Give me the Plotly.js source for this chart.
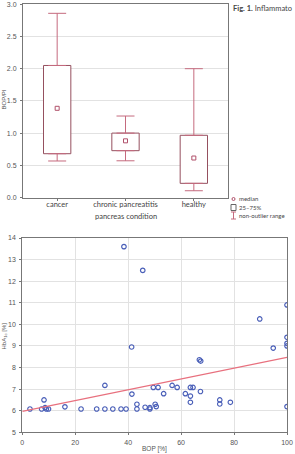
<!DOCTYPE html>
<html>
<head>
<meta charset="utf-8">
<script src="https://cdn.plot.ly/plotly-3.0.1.min.js"></script>
<style>
  html, body { margin: 0; padding: 0; background: #fff; }
  #chart { width: 295px; height: 454px; }
</style>
</head>
<body>
<div id="chart"></div>
<script>
// ---- Box plot: BOP/PI by pancreas condition ----
const groups      = ['cancer', 'chronic pancreatitis', 'healthy'];
const boxLower    = [0.567, 0.57, 0.105];
const boxQ1       = [0.68, 0.727, 0.22];
const boxMedian   = [1.385, 0.88, 0.613];
const boxQ3       = [2.05, 1.0, 0.966];
const boxUpper    = [2.86, 1.265, 2.0];
const boxTicks    = [0, 0.5, 1.0, 1.5, 2.0, 2.5, 3.0];

// ---- Scatter: HbA1c vs BOP ----
const bop = [2.9, 7.3, 8.2, 8.6, 9.1, 9.9, 16.1, 22.2, 28.1, 31.2, 31.2, 34.2,
             37.3, 39.2, 38.4, 41.3, 41.4, 43.3, 43.3, 45.5, 46.4, 48.2, 48.2,
             49.5, 50.2, 50.6, 51.3, 53.4, 56.6, 58.5, 61.6, 63.5, 64.5, 63.5,
             63.5, 67.3, 66.9, 67.4, 74.6, 74.6, 78.6, 89.7, 94.8, 100, 100,
             100, 100, 100];
const hba1c = [6.08, 6.08, 6.5, 6.14, 6.08, 6.08, 6.18, 6.08, 6.08, 6.08, 7.17, 6.08,
               6.08, 6.08, 13.6, 8.95, 6.77, 6.3, 6.08, 12.5, 6.16, 6.14, 6.08,
               7.08, 6.3, 6.19, 7.08, 6.79, 7.17, 7.08, 6.79, 7.08, 7.08, 6.68,
               6.39, 6.89, 8.36, 8.3, 6.5, 6.31, 6.39, 10.25, 8.9, 10.9, 9.4,
               9.12, 9.0, 6.19];
// fitted trend line end points
const fitX = [0, 100];
const fitY = [5.97, 8.47];

const W = 295, H = 454;
const px = x => x / W;
const py = y => 1 - y / H;

const boxLine = '#95505f';
const whiskerLine = '#c56a7e';
const pointBlue = '#4a5fb8';
const tickFont = {family: 'Liberation Sans, Arial, sans-serif', size: 7, color: '#555'};
const textFont = {family: 'Lato, sans-serif', size: 7.5, color: '#444'};

const xi = groups.map((_, i) => i);

const traces = [
  // box bodies (q1..q3)
  {
    type: 'bar', x: xi, base: boxQ1, y: boxQ3.map((v, i) => v - boxQ1[i]),
    width: 0.4, marker: {color: '#ffffff', line: {color: boxLine, width: 1}},
    xaxis: 'x', yaxis: 'y', hoverinfo: 'skip', showlegend: false
  },
  // upper whiskers
  {
    type: 'scatter', mode: 'markers', x: xi, y: boxQ3,
    marker: {size: 1, color: 'rgba(0,0,0,0)'},
    error_y: {type: 'data', symmetric: false,
              array: boxUpper.map((v, i) => v - boxQ3[i]),
              arrayminus: boxQ3.map(() => 0),
              color: whiskerLine, thickness: 1, width: 9},
    xaxis: 'x', yaxis: 'y', hoverinfo: 'skip', showlegend: false
  },
  // lower whiskers
  {
    type: 'scatter', mode: 'markers', x: xi, y: boxQ1,
    marker: {size: 1, color: 'rgba(0,0,0,0)'},
    error_y: {type: 'data', symmetric: false,
              array: boxQ1.map(() => 0),
              arrayminus: boxQ1.map((v, i) => v - boxLower[i]),
              color: whiskerLine, thickness: 1, width: 9},
    xaxis: 'x', yaxis: 'y', hoverinfo: 'skip', showlegend: false
  },
  // medians
  {
    type: 'scatter', mode: 'markers', x: xi, y: boxMedian,
    marker: {symbol: 'square-open', size: 4, color: '#b0506a', line: {width: 1}},
    xaxis: 'x', yaxis: 'y', showlegend: false
  },
  // scatter points
  {
    type: 'scatter', mode: 'markers', x: bop, y: hba1c,
    marker: {symbol: 'circle-open', size: 4.5, color: pointBlue, line: {width: 1.2}},
    xaxis: 'x2', yaxis: 'y2', showlegend: false
  },
  // trend line
  {
    type: 'scatter', mode: 'lines', x: fitX, y: fitY,
    line: {color: '#e8707e', width: 1.1},
    xaxis: 'x2', yaxis: 'y2', showlegend: false, hoverinfo: 'skip'
  }
];

const axisCommon = {
  showline: true, linecolor: '#777', linewidth: 1, mirror: true,
  ticks: 'outside', ticklen: 2, tickcolor: '#777',
  zeroline: false, tickfont: tickFont, gridcolor: '#e2e2e2', gridwidth: 1
};

function note(text, x, y, opts) {
  return Object.assign({
    text: text, xref: 'paper', yref: 'paper', x: px(x), y: py(y),
    xanchor: 'left', yanchor: 'middle', showarrow: false,
    font: {family: 'Lato, sans-serif', size: 6, color: '#444'}
  }, opts || {});
}

const annotations = [
  note('<b>Fig. 1.</b> Inflammato', 231, 8, {font: {family: 'Lato, sans-serif', size: 7.5, color: '#444'}}),
  note('BOP/PI', 3.5, 100, {textangle: -90, xanchor: 'center',
       font: {family: 'Liberation Sans, Arial, sans-serif', size: 6, color: '#555'}}),
  note('pancreas condition', 125.5, 216.5, {xanchor: 'center', font: textFont}),
  note('median', 237, 199),
  note('25–75%', 237, 207.5),
  note('non-outlier range', 237, 215.5),
  note('HbA<sub>1c</sub> [%]', 3.5, 336, {textangle: -90, xanchor: 'center',
       font: {family: 'Liberation Sans, Arial, sans-serif', size: 6, color: '#555'}}),
  note('BOP [%]', 154.6, 449, {xanchor: 'center',
       font: {family: 'Liberation Sans, Arial, sans-serif', size: 6.5, color: '#555'}})
];

// legend key glyphs
const shapes = [
  {type: 'circle', xref: 'paper', yref: 'paper', x0: px(232), x1: px(235), y0: py(200.5), y1: py(197.5),
   line: {color: '#b0506a', width: 1}},
  {type: 'rect', xref: 'paper', yref: 'paper', x0: px(231), x1: px(236), y0: py(210.5), y1: py(204.5),
   line: {color: '#666', width: 1}},
  {type: 'line', xref: 'paper', yref: 'paper', x0: px(233.5), x1: px(233.5), y0: py(219), y1: py(212),
   line: {color: whiskerLine, width: 1}},
  {type: 'line', xref: 'paper', yref: 'paper', x0: px(231), x1: px(236), y0: py(212), y1: py(212),
   line: {color: whiskerLine, width: 1}},
  {type: 'line', xref: 'paper', yref: 'paper', x0: px(231), x1: px(236), y0: py(219), y1: py(219),
   line: {color: whiskerLine, width: 1}}
];

const layout = {
  width: W, height: H,
  margin: {l: 0, r: 0, t: 0, b: 0},
  paper_bgcolor: '#fff', plot_bgcolor: '#fff',
  showlegend: false, bargap: 0,
  xaxis: Object.assign({}, axisCommon, {
    domain: [px(23), px(228)], range: [-0.5, 2.5],
    tickmode: 'array', tickvals: xi, ticktext: groups,
    tickfont: {family: 'Lato, sans-serif', size: 7.5, color: '#444'},
    showgrid: false, anchor: 'y', ticklabelstandoff: -3
  }),
  yaxis: Object.assign({}, axisCommon, {
    domain: [py(197.5), py(4.3)], range: [0, 3],
    tickmode: 'array', tickvals: boxTicks, ticktext: boxTicks.map(v => v.toFixed(1)),
    showgrid: true, anchor: 'x', ticklabelstandoff: 2
  }),
  xaxis2: Object.assign({}, axisCommon, {
    domain: [px(22.3), px(287)], range: [0, 100], dtick: 20, tick0: 0,
    showgrid: true, anchor: 'y2', ticklabelstandoff: 1
  }),
  yaxis2: Object.assign({}, axisCommon, {
    domain: [py(432.3), py(238)], range: [5, 14], dtick: 1, tick0: 5,
    showgrid: true, anchor: 'x2', ticklabelstandoff: 2
  }),
  annotations: annotations,
  shapes: shapes
};

Plotly.newPlot('chart', traces, layout, {displayModeBar: false, staticPlot: true});
</script>
</body>
</html>
